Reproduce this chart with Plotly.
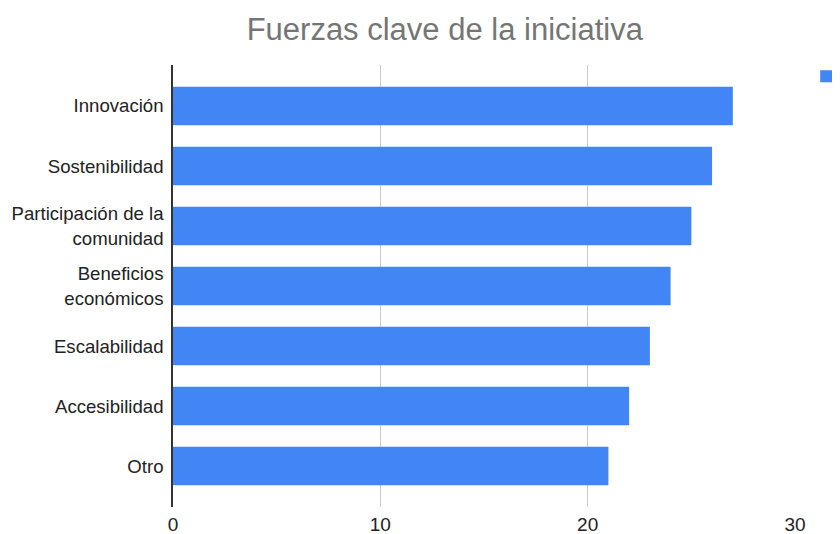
import plotly.graph_objects as go

categories = ["Innovación", "Sostenibilidad", "Participación de la<br>comunidad",
              "Beneficios<br>económicos", "Escalabilidad", "Accesibilidad", "Otro"]
values = [27, 26, 25, 24, 23, 22, 21]
series_name = "Recuento"
x_ticks = [0, 10, 20, 30]

fig = go.Figure()
fig.add_trace(go.Bar(
    x=values, y=categories, orientation="h", name=series_name,
    marker=dict(color="#4285F4", line=dict(width=0)),
    width=0.64, showlegend=True,
))

fig.update_layout(
    width=840, height=534,
    margin=dict(l=165, r=53, t=57, b=35, autoexpand=False),
    paper_bgcolor="white", plot_bgcolor="white",
    font=dict(family="Liberation Sans, Arial, sans-serif", size=18.6, color="#222222"),
    title=dict(text="Fuerzas clave de la iniciativa", x=0.52, xanchor="center",
               y=0.96, yanchor="middle",
               font=dict(size=31, color="#757575")),
    legend=dict(x=1.018, y=1.016, xanchor="left", yanchor="top",
                font=dict(size=18, color="#222222"), bgcolor="rgba(0,0,0,0)"),
    xaxis=dict(range=[0, 30], tickvals=x_ticks, showgrid=True, gridcolor="#cccccc",
               gridwidth=1, zeroline=False, showline=False,
               tickfont=dict(size=19),
               ticks="outside", ticklen=0, tickcolor="rgba(0,0,0,0)"),
    yaxis=dict(type="category", categoryarray=categories, range=[6.683, -0.683],
               showline=True, linecolor="#333333", linewidth=1.5, showgrid=False,
               ticks="outside", ticklen=4, tickcolor="rgba(0,0,0,0)"),
)

fig.write_html("out.html")
